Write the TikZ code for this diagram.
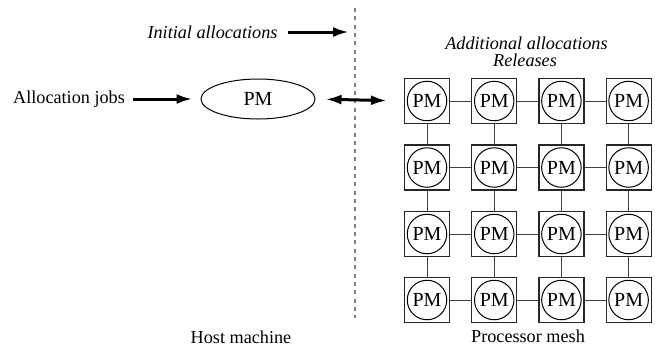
\documentclass[tikz,border=0pt]{standalone}
\usepackage{fontspec}
\setmainfont{Liberation Serif}
\usetikzlibrary{shapes.geometric,arrows.meta}
\begin{document}
\begin{tikzpicture}[x=1pt,y=-1pt,
  lbl/.style={inner sep=0pt,font=\fontsize{18.2}{21}\selectfont},
  ital/.style={lbl,font=\fontsize{18.2}{21}\selectfont\itshape},
  pmbox/.style={draw=black!85,line width=1.2pt,minimum size=45pt,inner sep=0pt},
  pmcirc/.style={draw=black,line width=1pt,circle,minimum size=39.5pt,inner sep=0pt,font=\fontsize{20}{22}\selectfont},
  link/.style={draw=black!75,line width=1pt},
  bigarrow/.style={line width=3pt,-{Latex[length=16pt,width=10pt]}},
  dblarrow/.style={line width=3pt,{Latex[length=16pt,width=10pt]}-{Latex[length=16pt,width=10pt]}}
]
\useasboundingbox (0,0) rectangle (655,349);
% dashed separator
\coordinate (dtop) at (355,8);
\coordinate (dbot) at (355,318);
\draw[black!50,line width=1.5pt,dash pattern=on 4pt off 4.3pt] (dtop) -- (dbot);
% left side
\node[ital] (ia) at (212.5,32) {Initial allocations};
\node[lbl] (aj) at (69,99) {Allocation jobs};
\node[draw=black,line width=1pt,ellipse,minimum width=114pt,minimum height=40pt,inner sep=0pt,font=\fontsize{20}{22}\selectfont] (pm) at (258,99) {PM};
\node[lbl] (host) at (241,337) {Host machine};
\draw[bigarrow,shorten <=10pt,shorten >=6pt] (ia.east) -- (ia.east -| dtop);
\draw[bigarrow,shorten <=8pt,shorten >=8pt] (aj.east) -- (pm.west);
% right side
\node[ital] (add) at (526.5,43) {Additional allocations};
\node[ital] (rel) at (525,60) {Releases};
\node[lbl] (mesh) at (528,336) {Processor mesh};
\foreach \r/\y in {1/101,2/167.5,3/234,4/300}{
  \foreach \c/\x in {1/427,2/494.2,3/561.4,4/628.6}{
    \node[pmbox] (s-\r-\c) at (\x,\y) {};
    \node[pmcirc] (c-\r-\c) at (\x,\y) {PM};
  }
}
\foreach \r in {1,2,3,4}{
  \foreach \c/\n in {1/2,2/3,3/4}{
    \draw[link] (s-\r-\c.east) -- (s-\r-\n.west);
  }
}
\foreach \r/\n in {1/2,2/3,3/4}{
  \foreach \c in {1,2,3,4}{
    \draw[link] (s-\r-\c.south) -- (s-\n-\c.north);
  }
}
\draw[dblarrow,shorten <=10pt,shorten >=17pt] (pm.east) -- (s-1-1.west);
\end{tikzpicture}
\end{document}
